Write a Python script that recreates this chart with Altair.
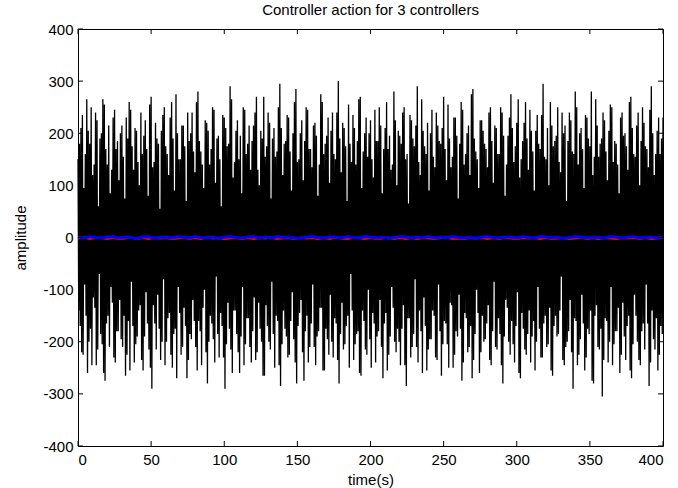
import altair as alt
import numpy as np
import pandas as pd

# Controller 1 (black): upper and lower swing peaks (two interleaved passes)
upper = [
    150, 210, 95, 265, 180, 120, 240, 60, 200, 255, 140, 85, 230, 170, 110, 215, 75, 190, 245, 130,
    205, 100, 160, 225, 80, 270, 145, 190, 55, 235, 175, 120, 260, 90, 200, 150, 215, 70, 185, 240,
    125, 280, 165, 95, 220, 140, 250, 105, 195, 60, 230, 175, 290, 115, 205, 150, 85, 245, 180, 130,
    215, 270, 100, 190, 155, 240, 75, 210, 165, 295, 120, 185, 230, 90, 260, 145, 200, 110, 250, 170,
    135, 220, 80, 275, 160, 195, 105, 240, 150, 300, 125, 210, 70, 180, 235, 140, 265, 95, 200, 155,
    225, 115, 185, 250, 85, 210, 170, 130, 280, 100, 195, 240, 150, 65, 225, 175, 290, 120, 205, 160,
    90, 245, 135, 215, 180, 270, 110, 190, 155, 230, 75, 260, 140, 200, 120, 285, 165, 95, 225, 180,
    135, 250, 105, 210, 160, 240, 80, 195, 275, 145, 220, 115, 185, 260, 130, 205, 90, 235, 170, 295,
    150, 100, 215, 185, 250, 125, 200, 70, 240, 165, 280, 140, 210, 95, 230, 175, 120, 265, 155, 190,
    225, 110, 255, 145, 180, 85, 240, 200, 130, 270, 160, 215, 100, 250, 175, 135, 290, 120, 205, 160,
    230,
]
lower = [
    -140, -220, -90, -260, -175, -115, -245, -70, -205, -275, -150, -95, -230, -180, -120, -210, -265, -160, -85, -240,
    -190, -130, -255, -105, -215, -290, -165, -110, -235, -80, -200, -145, -250, -175, -95, -225, -135, -270, -185, -120,
    -210, -160, -245, -100, -280, -150, -195, -75, -230, -170, -290, -125, -215, -140, -185, -260, -95, -205, -155, -240,
    -115, -220, -175, -265, -130, -200, -85, -250, -160, -285, -140, -190, -225, -105, -240, -170, -120, -275, -150, -210,
    -90, -245, -180, -135, -255, -195, -110, -230, -165, -280, -125, -205, -150, -70, -235, -185, -260, -140, -215, -100,
    -250, -165, -190, -120, -270, -145, -225, -95, -200, -175, -245, -130, -285, -155, -210, -80, -240, -180, -115, -255,
    -195, -140, -230, -90, -265, -160, -205, -125, -250, -180, -110, -275, -145, -220, -170, -235, -100, -260, -150, -195,
    -130, -245, -85, -215, -185, -280, -120, -200, -160, -240, -105, -270, -175, -225, -140, -190, -255, -95, -230, -165,
    -210, -135, -265, -150, -185, -75, -245, -200, -120, -290, -160, -225, -110, -255, -175, -140, -280, -130, -215, -305,
    -155, -240, -95, -205, -180, -260, -125, -235, -150, -270, -110, -200, -245, -165, -90, -285, -140, -215, -255, -170,
]
upper2 = [
    180, 235, 160, 205, 250, 140, 225, 190, 265, 170, 215, 130, 245, 185, 200, 155, 230, 260, 175, 210,
    145, 240, 195, 170, 255, 135, 220, 180, 205, 250, 160, 230, 190, 275, 150, 215, 175, 240, 200, 165,
    260, 185, 140, 225, 205, 170, 245, 190, 150, 235, 210, 180, 265, 145, 225, 195, 250, 160, 215, 185,
    240, 130, 205, 270, 175, 220, 190, 155, 250, 210, 180, 235, 165, 200, 285, 150, 225, 185, 245, 170,
    215, 195, 140, 260, 180, 230, 205, 160, 240, 190, 220, 175, 255, 145, 210, 185, 270, 165, 230, 200,
    150, 245, 185, 215, 170, 260, 195, 140, 225, 205, 180, 250, 160, 235, 190, 215, 145, 265, 175, 220,
    200, 155, 240, 185, 210, 170, 255, 135, 230, 195, 180, 245, 160, 215, 275, 190, 150, 225, 205, 170,
    240, 185, 215, 160, 250, 195, 140, 230, 210, 175, 265, 150, 220, 190, 245, 165, 205, 180, 235, 155,
    210, 260, 175, 195, 145, 240, 215, 185, 225, 160, 250, 200, 170, 235, 190, 280, 155, 215, 180, 240,
    165, 205, 250, 185, 140, 230, 195, 175, 260, 210, 155, 240, 185, 220, 170, 245, 200, 160, 230, 190,
]
lower2 = [
    -170, -225, -150, -200, -245, -135, -215, -185, -260, -165, -210, -125, -240, -180, -195, -150, -225, -255, -170, -205,
    -140, -235, -190, -165, -250, -130, -215, -175, -200, -245, -155, -225, -185, -270, -145, -210, -170, -235, -195, -160,
    -255, -180, -135, -220, -200, -165, -240, -185, -145, -230, -205, -175, -260, -140, -220, -190, -245, -155, -210, -180,
    -235, -125, -200, -265, -170, -215, -185, -150, -245, -205, -175, -230, -160, -195, -280, -145, -220, -180, -240, -165,
    -210, -190, -135, -255, -175, -225, -200, -155, -235, -185, -215, -170, -250, -140, -205, -180, -265, -160, -225, -195,
    -145, -240, -180, -210, -165, -255, -190, -135, -220, -200, -175, -245, -155, -230, -185, -210, -140, -260, -170, -215,
    -195, -150, -235, -180, -205, -165, -250, -130, -225, -190, -175, -240, -155, -210, -270, -185, -145, -220, -200, -165,
    -235, -180, -210, -155, -245, -190, -135, -225, -205, -170, -260, -145, -215, -185, -240, -160, -200, -175, -230, -150,
    -205, -255, -170, -190, -140, -235, -210, -180, -220, -155, -245, -195, -165, -230, -185, -275, -150, -210, -175, -235,
    -160, -200, -245, -180, -135, -225, -190, -170, -255, -205, -150, -235, -180, -215, -165, -240, -195, -155, -225, -185,
]
# Controller 2 (red) and controller 3 (blue), small actions near zero
red = [
    -2, 0, -3, -1, -1, -3, -1, -3, -2, 0, -3, -1, -3, -1, -2, -1, -3, -2, 0, -3, -1, -3, 0, -2, -1,
    -3, -2, -1, -3, -1, -3, -1, -2, 0, -3, -2, -1, -3, 0, -2, -1, -3, -1, -3, 0, -2, -3, -1, -1, -3,
    -1, -3, -2, 0, -3, -1, -3, -1, -3, -1, -2, -3, -1, 0, -3, -2, -3, -1, -2, -1, -3, -1, -3, 0, -2,
    -3, -1, -2, -1, -3, -1, -3, -2, -1, -3, -2, 0, -3, -1, -3, -1, -2, -3, -1, -2, -1, -3, -1, -3, -2, -1,
]
blue = [
    1, -1, 2, 0, -1, 1, 2, -1, 1, 0, -2, 1, 2, -1, 0, 1, -1, 2, 1, -1, 2, 0, -1, 1, -2,
    1, 2, 0, -1, 1, 2, -1, 1, -1, 2, 0, 1, -1, -2, 1, 2, 0, -1, 1, 1, -1, 2, 0, -1, 2,
    1, -1, 1, -2, 0, 2, 1, -1, 1, 0, 2, -1, 1, -1, 2, 0, -1, 1, -2, 1, 2, 0, -1, 1, 1,
    -1, 2, 0, -1, 2, 1, -1, 1, -2, 0, 2, 1, -1, 1, 0, -1, 2, 1, -1, 1, 2, -1, 0, 1, -1, 1,
]
x_ticks = [0, 50, 100, 150, 200, 250, 300, 350, 400]
y_ticks = [-400, -300, -200, -100, 0, 100, 200, 300, 400]

black = []
for i in range(len(lower)):
    black += [upper[i], lower[i], upper2[i], lower2[i]]
black.append(upper[len(lower)])

def frame(vals):
    return pd.DataFrame({"t": np.linspace(0, 400, len(vals)), "v": vals})

W, H = 585, 417
FONT = "Liberation Sans"

xs = alt.Scale(domain=[0, 400], nice=False, zero=False)
ys = alt.Scale(domain=[-400, 400], nice=False, zero=False)

xaxis = alt.Axis(values=x_ticks, title="time(s)", grid=False, ticks=False, tickSize=0,
                 domain=False, labelPadding=6, labelFontSize=15, titleFontSize=15,
                 labelFont=FONT, titleFont=FONT, labelColor="black", titleColor="black",
                 titleFontWeight="normal", titleY=33, titleBaseline="middle",
                 labelExpr="'' + datum.value")
yaxis = alt.Axis(values=y_ticks, title="amplitude", grid=False, ticks=False, tickSize=0,
                 domain=False, labelPadding=5, labelFontSize=15, titleFontSize=15,
                 labelFont=FONT, titleFont=FONT, labelColor="black", titleColor="black",
                 titleFontWeight="normal", titleX=-58, titleY=H / 2, titleAngle=-90,
                 titleAlign="center", titleBaseline="middle",
                 labelExpr="'' + datum.value")

l_black = alt.Chart(frame(black)).mark_line(color="black", strokeWidth=1.3).encode(
    x=alt.X("t:Q", scale=xs, axis=xaxis),
    y=alt.Y("v:Q", scale=ys, axis=yaxis),
)
l_red = alt.Chart(frame(red)).mark_line(color="#ff0000", strokeWidth=2).encode(
    x=alt.X("t:Q", scale=xs), y=alt.Y("v:Q", scale=ys))
l_blue = alt.Chart(frame(blue)).mark_line(color="#0000ff", strokeWidth=3).encode(
    x=alt.X("t:Q", scale=xs), y=alt.Y("v:Q", scale=ys))

xt = pd.DataFrame({"xt": x_ticks})
yt = pd.DataFrame({"yt": y_ticks})
TL = 5
tick_b = alt.Chart(xt).mark_rule(color="black").encode(
    x=alt.X("xt:Q", scale=xs), y=alt.value(H), y2=alt.value(H - TL))
tick_t = alt.Chart(xt).mark_rule(color="black").encode(
    x=alt.X("xt:Q", scale=xs), y=alt.value(0), y2=alt.value(TL))
tick_l = alt.Chart(yt).mark_rule(color="black").encode(
    y=alt.Y("yt:Q", scale=ys), x=alt.value(0), x2=alt.value(TL))
tick_r = alt.Chart(yt).mark_rule(color="black").encode(
    y=alt.Y("yt:Q", scale=ys), x=alt.value(W), x2=alt.value(W - TL))

chart = alt.layer(l_black, l_red, l_blue, tick_b, tick_t, tick_l, tick_r).properties(
    width=W, height=H,
    title=alt.TitleParams("Controller action for 3 controllers", font=FONT, fontSize=15,
                          fontWeight="normal", color="black", anchor="middle", offset=4),
    padding={"left": 78, "top": 29, "right": 15, "bottom": 42},
    autosize=alt.AutoSizeParams(type="none"),
    background="white",
).configure_view(stroke="black", strokeWidth=1)

chart.save("out.html", embed_options={"renderer": "svg", "actions": False})
